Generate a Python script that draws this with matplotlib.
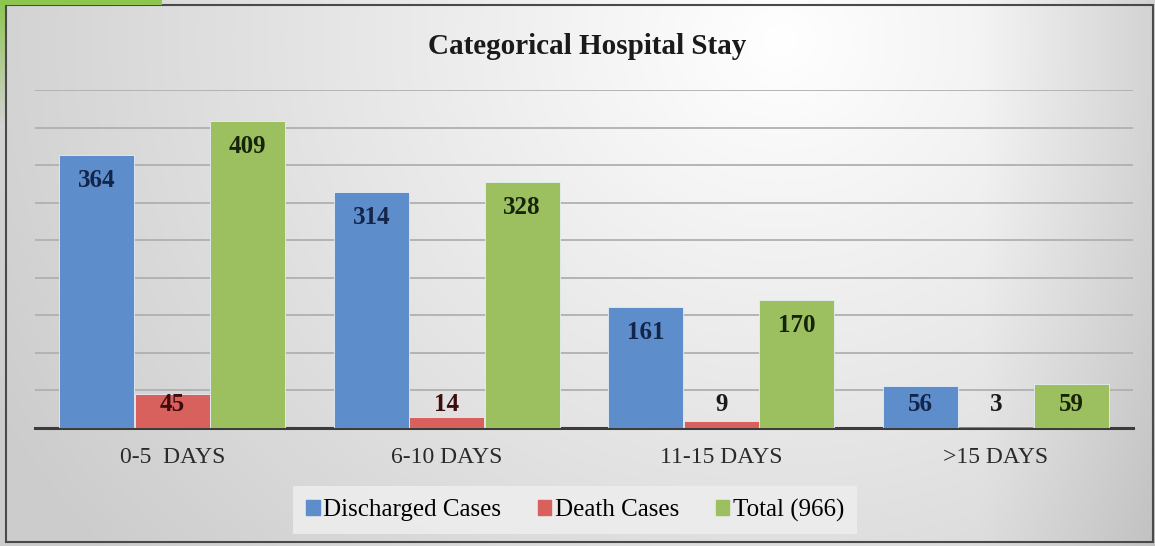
import numpy as np
import matplotlib
matplotlib.use("Agg")
import matplotlib.pyplot as plt
from matplotlib.patches import Rectangle, Patch

categories = ['0-5  DAYS', '6-10 DAYS', '11-15 DAYS', '>15 DAYS']
discharged = [364, 314, 161, 56]
deaths = [45, 14, 9, 3]
total = [409, 328, 170, 59]
series_names = ['Discharged Cases', 'Death Cases', 'Total (966)']

colors = ['#5e8dcb', '#d8605d', '#9cc060']
label_colors = ['#14254a', '#3d0c0c', '#17230a']
serif = ['Liberation Serif', 'DejaVu Serif']

fig = plt.figure(figsize=(11.55, 5.46), dpi=100)

# background gradient, light near the top middle, greyer to the edges
bg = fig.add_axes([0, 0, 1, 1], zorder=-10)
yy, xx = np.mgrid[0:546, 0:1155]
r = np.sqrt(((xx - 780) / 900.0) ** 2 + ((yy - 40) / 800.0) ** 2)
r = np.clip(r, 0, 1)
val = 1.0 - 0.2 * r - 0.09 * np.clip((xx - 980) / 175.0, 0, 1)
img = np.dstack([val, val, val])
bg.imshow(img, extent=[0, 1155, 546, 0], aspect='auto')

# outer border and green corner
bg.add_patch(Rectangle((6, 5), 1147, 537, fill=False, edgecolor='#4a4a4a', lw=1.5))
bg.add_patch(Rectangle((0, 0), 162, 5, color='#8cc64f', lw=0))
fade = np.zeros((120, 1, 4))
fade[..., 0] = 0.55
fade[..., 1] = 0.78
fade[..., 2] = 0.31
fade[:, 0, 3] = np.linspace(1, 0, 120)
bg.imshow(fade, extent=[0, 6, 125, 0], aspect='auto')
bg.set_xlim(0, 1155)
bg.set_ylim(546, 0)
bg.axis('off')

ax = fig.add_axes([35 / 1155, 1 - 428 / 546, 1098 / 1155, 338 / 546])
ax.set_facecolor('none')

x = np.arange(len(categories))
w = 0.273
offs = [-0.275, 0, 0.275]
for vals, off, c, lc in zip([discharged, deaths, total], offs, colors, label_colors):
    ax.bar(x + off, vals, width=w, color=c, edgecolor='#e6eef6', lw=0.6, zorder=3)
    for xi, v in zip(x + off, vals):
        ax.text(xi, max(v - 34, 31), str(v), ha='center', va='center',
                fontsize=18, fontweight='bold', color=lc if v > 12 else '#1a1a1a',
                family=serif, zorder=4)

ax.set_xlim(-0.5, 3.5)
ax.set_ylim(0, 450)
ax.set_yticks(np.arange(50, 451, 50))
ax.yaxis.grid(True, color='#b0b0b0', lw=1.3)
ax.set_axisbelow(True)
ax.tick_params(axis='y', left=False, labelleft=False)
ax.tick_params(axis='x', bottom=False, pad=10)
ax.set_xticks(x)
ax.set_xticklabels(categories, fontsize=17, family=serif, color='#2a2a2a')
for s in ['top', 'right', 'left']:
    ax.spines[s].set_visible(False)
ax.spines['bottom'].set_color('#3c3c3c')
ax.spines['bottom'].set_linewidth(2.2)

fig.text(0.508, 1 - 46 / 546, 'Categorical Hospital Stay', ha='center', va='center',
         fontsize=21, fontweight='bold', family=serif, color='#1a1a1a')

handles = [Patch(color=c) for c in colors]
leg = fig.legend(handles, series_names, loc='center', bbox_to_anchor=(0.498, 1 - 510 / 546),
                 ncol=3, frameon=True, fancybox=False, handlelength=0.55, handleheight=0.55,
                 handletextpad=0.15, columnspacing=1.45, borderpad=0.5, borderaxespad=0,
                 prop={'family': serif, 'size': 18})
leg.get_frame().set_facecolor('#ededed')
leg.get_frame().set_edgecolor('none')
leg.get_frame().set_alpha(0.9)

fig.savefig('out.png', dpi=100)
